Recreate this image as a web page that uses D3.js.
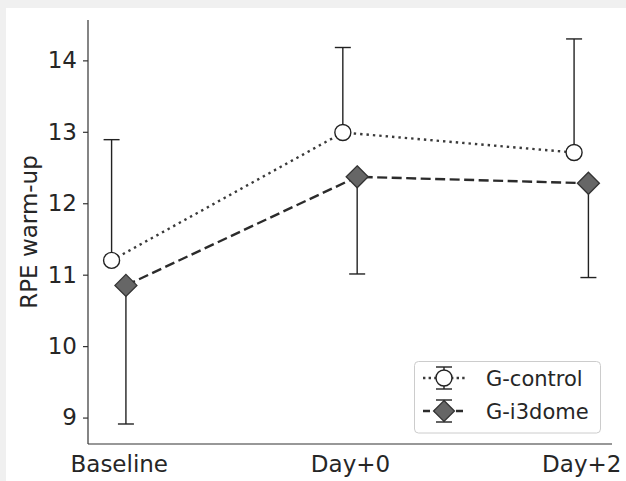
<!DOCTYPE html>
<html>
<head>
<meta charset="utf-8">
<script src="https://cdn.jsdelivr.net/npm/d3@7"></script>
<style>
  html, body { margin: 0; padding: 0; background: #f0f0f0; }
  svg { display: block; }
  text { font-family: "DejaVu Sans", sans-serif; fill: #262626; }
</style>
</head>
<body>
<svg id="chart" width="626" height="481"></svg>
<script>
// ---- data ----
const categories = ["Baseline", "Day+0", "Day+2"];
const seriesNames = ["G-control", "G-i3dome"];
const controlMean = [11.20, 12.99, 12.71];
const controlErr  = [1.69, 1.19, 1.59];   // drawn upward
const i3domeMean  = [10.85, 12.37, 12.28];
const i3domeErr   = [1.94, 1.36, 1.32];   // drawn downward
const yTicks = [9, 10, 11, 12, 13, 14];
const yLabel = "RPE warm-up";

// ---- layout ----
const svg = d3.select("#chart");
svg.append("rect").attr("x", 6).attr("y", 8).attr("width", 620).attr("height", 473).attr("fill", "#ffffff");

const pLeft = 88, pRight = 612, pTop = 20, pBottom = 444;
const offset = 0.031;
const x = d3.scaleLinear().domain([-0.133, 2.133]).range([pLeft, pRight]);
const y = d3.scaleLinear().domain([8.63, 14.565]).range([pBottom, pTop]);

const plot = svg.append("g");

// axes
const yAxis = d3.axisLeft(y).tickValues(yTicks).tickSize(5).tickPadding(6).tickFormat(d3.format("d"));
const gy = svg.append("g").attr("transform", `translate(${pLeft},0)`).call(yAxis);
gy.select(".domain").attr("stroke", "#333").attr("stroke-width", 1.2).attr("d", `M0,${pTop}V${pBottom}`);
gy.selectAll(".tick line").attr("stroke", "#333").attr("stroke-width", 1.2);
gy.selectAll(".tick text").style("font-size", "23px").attr("fill", "#262626").style("font-family", "DejaVu Sans");

const xAxis = d3.axisBottom(x).tickValues([0, 1, 2]).tickSize(0).tickPadding(12).tickFormat(i => categories[i]);
const gx = svg.append("g").attr("transform", `translate(0,${pBottom})`).call(xAxis);
gx.select(".domain").attr("stroke", "#333").attr("stroke-width", 1.2).attr("d", `M${pLeft},0H${pRight}`);
gx.selectAll(".tick text").style("font-size", "23px").attr("fill", "#262626").style("font-family", "DejaVu Sans");

svg.append("text")
  .attr("transform", `translate(36.5,${(pTop + pBottom) / 2}) rotate(-90)`)
  .attr("text-anchor", "middle")
  .style("font-size", "23px")
  .text(yLabel);

// series definitions
const series = [
  { name: seriesNames[0], mean: controlMean, err: controlErr, dir: 1, dx: -offset,
    dash: "2.4,4", lineColor: "#3a3a3a", marker: "circle" },
  { name: seriesNames[1], mean: i3domeMean, err: i3domeErr, dir: -1, dx: offset,
    dash: "10,4.5", lineColor: "#2b2b2b", marker: "diamond" }
];

const capHalf = 8;
const errColor = "#222";

function drawMarker(g, type, cx, cy, scale) {
  const s = scale || 1;
  if (type === "circle") {
    g.append("circle").attr("cx", cx).attr("cy", cy).attr("r", 8 * s)
      .attr("fill", "#ffffff").attr("stroke", "#222").attr("stroke-width", 1.4);
  } else {
    const h = 11 * s;
    g.append("path").attr("d", `M${cx},${cy - h}L${cx + h},${cy}L${cx},${cy + h}L${cx - h},${cy}Z`)
      .attr("fill", "#666666").attr("stroke", "#333").attr("stroke-width", 1.3);
  }
}

series.forEach(s => {
  const pts = s.mean.map((m, i) => [x(i + s.dx), y(m)]);
  // error bars
  s.mean.forEach((m, i) => {
    const cx = x(i + s.dx);
    const y0 = y(m), y1 = y(m + s.dir * s.err[i]);
    plot.append("line").attr("x1", cx).attr("x2", cx).attr("y1", y0).attr("y2", y1)
      .attr("stroke", errColor).attr("stroke-width", 1.4);
    plot.append("line").attr("x1", cx - capHalf).attr("x2", cx + capHalf).attr("y1", y1).attr("y2", y1)
      .attr("stroke", errColor).attr("stroke-width", 1.4);
  });
  // line
  plot.append("path").attr("d", d3.line()(pts)).attr("fill", "none")
    .attr("stroke", s.lineColor).attr("stroke-width", 2.4).attr("stroke-dasharray", s.dash);
});
series.forEach(s => {
  s.mean.forEach((m, i) => drawMarker(plot, s.marker, x(i + s.dx), y(m)));
});

// legend
const lg = svg.append("g");
lg.append("rect").attr("x", 414.5).attr("y", 361.5).attr("width", 186).attr("height", 71.5)
  .attr("rx", 4).attr("fill", "#ffffff").attr("fill-opacity", 0.85)
  .attr("stroke", "#cccccc").attr("stroke-width", 1);
series.forEach((s, k) => {
  const cy = 378 + k * 33, cx = 444;
  lg.append("line").attr("x1", 423).attr("x2", 467).attr("y1", cy).attr("y2", cy)
    .attr("stroke", s.lineColor).attr("stroke-width", 2.4)
    .attr("stroke-dasharray", s.marker === "circle" ? "2.4,3.2" : "7,4");
  lg.append("line").attr("x1", cx).attr("x2", cx).attr("y1", cy - 11).attr("y2", cy + 11)
    .attr("stroke", errColor).attr("stroke-width", 1.4);
  [cy - 11, cy + 11].forEach(yy => lg.append("line").attr("x1", cx - 8).attr("x2", cx + 8)
    .attr("y1", yy).attr("y2", yy).attr("stroke", errColor).attr("stroke-width", 1.4));
  drawMarker(lg, s.marker, cx, cy, s.marker === "circle" ? 1 : 0.95);
  lg.append("text").attr("x", 486).attr("y", cy).attr("dy", "0.36em")
    .style("font-size", "21px").text(s.name);
});
</script>
</body>
</html>
